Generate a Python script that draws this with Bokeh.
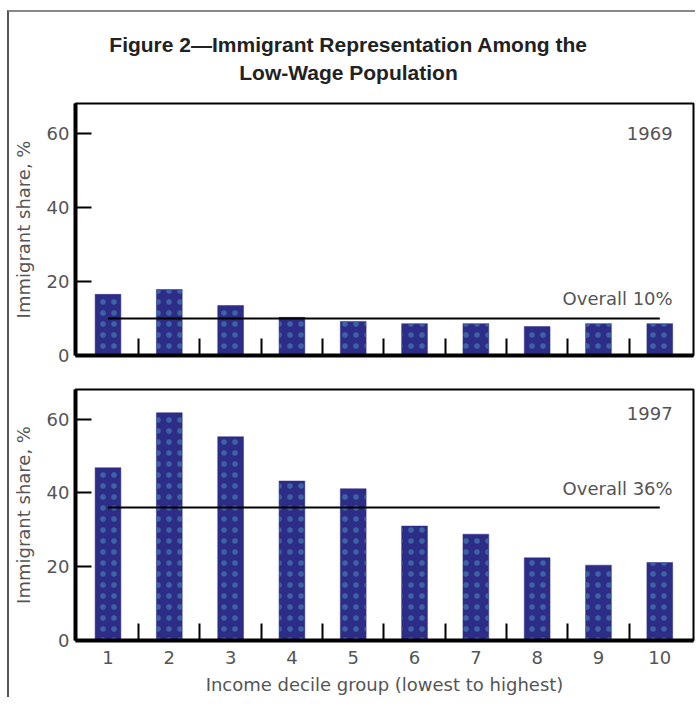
from bokeh.plotting import figure
from bokeh.layouts import column
from bokeh.models import (ColumnDataSource, FixedTicker, Label, Range1d)
from bokeh.core.properties import value
from bokeh.embed import file_html
from bokeh.resources import INLINE

deciles = [1, 2, 3, 4, 5, 6, 7, 8, 9, 10]
share_1969 = [16.5, 17.8, 13.5, 10.3, 9.2, 8.6, 8.6, 7.8, 8.6, 8.6]
share_1997 = [46.8, 61.7, 55.2, 43.2, 41.1, 31.0, 28.8, 22.4, 20.4, 21.1]
overall_1969 = 10
overall_1997 = 36
y_ticks = [0, 20, 40, 60]
title_line1 = "Figure 2\u2014Immigrant Representation Among the"
title_line2 = "Low-Wage Population"
y_label = "Immigrant share, %"
x_label = "Income decile group (lowest to highest)"

TFONT = "Liberation Sans"
FONT = "DejaVu Sans"
FSIZE = "18px"
GRAY = "#555555"
BAR = "#2d2d88"
DOT = "#4a9cc0"
X0, X1 = 0.47, 10.55
Y1 = 68
W = 686
TH = 86
LEFT, RIGHT = 66, 2


def make_panel(values, overall, year, year_y, height, top, bottom, show_x):
    p = figure(width=W, height=height, output_backend="svg",
               toolbar_location=None, x_range=Range1d(X0, X1),
               y_range=Range1d(0, Y1), min_border_left=LEFT,
               min_border_right=RIGHT, min_border_top=top,
               min_border_bottom=bottom)
    p.title.visible = False
    p.grid.grid_line_color = None
    p.outline_line_color = "black"
    p.outline_line_width = 2
    p.background_fill_color = "white"
    p.border_fill_color = "white"

    src = ColumnDataSource(dict(x=deciles, top=values))
    p.vbar(x="x", top="top", width=0.42, bottom=0, source=src,
           fill_color=BAR, line_color=BAR, line_width=0.5,
           hatch_pattern="dot", hatch_color=DOT, hatch_scale=11,
           hatch_weight=1, hatch_alpha=0.5)

    p.segment(x0=[deciles[0]], x1=[deciles[-1]], y0=[overall], y1=[overall],
              line_color="black", line_width=2)

    # y axis
    ya = p.yaxis[0]
    ya.ticker = FixedTicker(ticks=y_ticks)
    ya.axis_line_width = 4
    ya.axis_line_color = "black"
    ya.major_tick_in = 16
    ya.major_tick_out = 0
    ya.major_tick_line_width = 2
    ya.minor_tick_line_color = None
    ya.major_label_text_font = FONT
    ya.major_label_text_font_size = FSIZE
    ya.major_label_text_color = GRAY
    ya.major_label_standoff = 6
    ya.axis_label = y_label
    ya.axis_label_text_font = FONT
    ya.axis_label_text_font_size = FSIZE
    ya.axis_label_text_font_style = "normal"
    ya.axis_label_text_color = GRAY
    ya.axis_label_standoff = 10

    # x axis
    xa = p.xaxis[0]
    mids = [d + 0.5 for d in deciles[:-1]]
    xa.axis_line_width = 4
    xa.axis_line_color = "black"
    xa.major_tick_line_color = None
    xa.minor_tick_in = 17
    xa.minor_tick_out = 0
    xa.minor_tick_line_width = 2
    xa.minor_tick_line_color = "black"
    if show_x:
        xa.ticker = FixedTicker(ticks=deciles, minor_ticks=mids)
        xa.major_label_text_font = FONT
        xa.major_label_text_font_size = FSIZE
        xa.major_label_text_color = GRAY
        xa.major_label_standoff = 4
        xa.axis_label = x_label
        xa.axis_label_text_font = FONT
        xa.axis_label_text_font_size = FSIZE
        xa.axis_label_text_font_style = "normal"
        xa.axis_label_text_color = GRAY
        xa.axis_label_standoff = 7
    else:
        xa.ticker = FixedTicker(ticks=[], minor_ticks=mids)

    right_x = deciles[-1] + 0.21
    p.add_layout(Label(x=right_x, y=year_y, text=year,
                       text_align="right", text_baseline="middle",
                       text_font=FONT, text_font_size=FSIZE,
                       text_color=GRAY))
    p.add_layout(Label(x=right_x, y=overall + 5.3, text="Overall %d%%" % overall,
                       text_align="right", text_baseline="middle",
                       text_font=FONT, text_font_size=FSIZE,
                       text_color=GRAY))
    return p


# title strip (pixel coordinates inside a frame aligned with the panels)
FW = W - LEFT - RIGHT
head = figure(width=W, height=TH, output_backend="svg", toolbar_location=None,
              x_range=Range1d(0, FW), y_range=Range1d(0, TH),
              x_axis_type=None, y_axis_type=None,
              min_border_left=LEFT, min_border_right=RIGHT,
              min_border_top=0, min_border_bottom=0)
head.title.visible = False
head.grid.grid_line_color = None
head.outline_line_color = None
head.background_fill_color = "white"
head.border_fill_color = "white"
head.text(x=[273, 273], y=[TH - 32, TH - 60], text=[title_line1, title_line2],
          text_align="center", text_baseline="middle",
          text_font=value(TFONT), text_font_size="21px",
          text_font_style="bold", text_color="#222222")

top = make_panel(share_1969, overall_1969, "1969", 60, 358 - TH, 91 - TH, 15, False)
bottom = make_panel(share_1997, overall_1997, "1997", 61.5, 327, 19, 53, True)

layout = column(head, top, bottom, spacing=0, margin=(10, 0, 0, 7),
                styles={"border-top": "2px solid #888888",
                        "border-left": "2px solid #555555"})

open("out.html", "w").write(file_html(layout, INLINE))
